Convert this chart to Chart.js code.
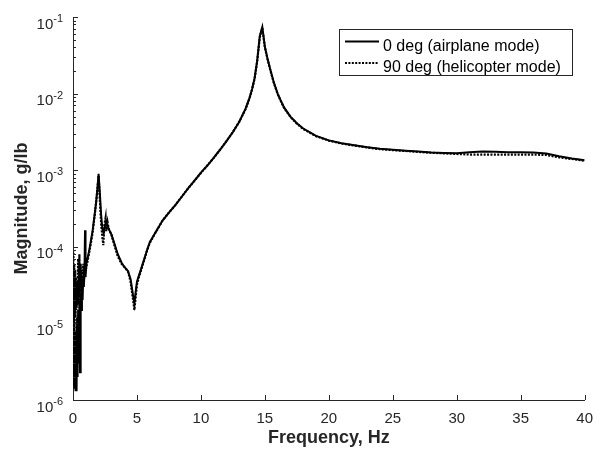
<!DOCTYPE html>
<html>
<head>
<meta charset="utf-8">
<script src="https://cdn.jsdelivr.net/npm/chart.js@4.4.1/dist/chart.umd.min.js"></script>
<style>
  html, body { margin: 0; padding: 0; background: #fff; }
</style>
</head>
<body>
<canvas id="fig" width="603" height="450"></canvas>
<script>
// frequency response, values (Hz, g/lb)
const freq0 = [0, 0.05, 0.08, 0.12, 0.16, 0.2, 0.24, 0.28, 0.32, 0.36,
  0.4, 0.45, 0.5, 0.55, 0.6, 0.65, 0.7, 0.75, 0.8, 0.85,
  0.9, 0.94, 0.98, 1.05, 1.27, 1.54, 1.8, 1.9, 2.0, 2.1,
  2.2, 2.3, 2.4, 2.5, 2.6, 2.8, 3.0, 3.2, 3.5, 3.8,
  4.0, 4.3, 4.5, 4.7, 4.8, 4.9, 5.0, 5.15, 5.3, 5.45,
  5.6, 5.8, 6.0, 6.5, 7, 7.5, 8, 8.5, 9, 9.5,
  10, 10.5, 11, 11.5, 12, 12.5, 13, 13.5, 13.8, 14,
  14.2, 14.4, 14.6, 14.8, 15.0, 15.2, 15.4, 15.7, 16.0, 16.2,
  16.5, 17, 17.5, 18, 19, 20, 21,
  22, 23, 24, 25, 26, 27, 28, 29, 30, 31, 32, 33, 34, 35, 36, 37, 38, 39, 40];
const mag0 = [4e-6, 1.5e-6, 1e-5, 1.4e-6, 6e-6, 1.3e-6, 8e-6, 1.3e-6, 1.2e-5, 2e-6,
  1.5e-5, 3e-6, 2e-5, 2.3e-6, 2.5e-5, 1.5e-5, 3e-5, 2e-5, 4e-5, 3e-5,
  5e-5, 1.65e-4, 4e-5, 6e-5, 9e-5, 1.65e-4, 3.7e-4, 5.5e-4, 9e-4, 5e-4,
  2.6e-4, 1.7e-4, 1.5e-4, 1.9e-4, 2.1e-4, 1.7e-4, 1.45e-4, 1.15e-4, 8e-5, 6.2e-5,
  5.5e-5, 4.8e-5, 3.8e-5, 2.3e-5, 1.8e-5, 2.6e-5, 3.5e-5, 4.2e-5, 5e-5, 6e-5,
  7.2e-5, 9.2e-5, 1.15e-4, 1.6e-4, 2.2e-4, 2.8e-4, 3.5e-4, 4.5e-4, 5.8e-4, 7.3e-4,
  9.3e-4, 1.15e-3, 1.45e-3, 1.85e-3, 2.4e-3, 3.15e-3, 4.3e-3, 6.4e-3, 8.8e-3, 1.15e-2,
  1.6e-2, 2.7e-2, 5.6e-2, 7.4e-2, 4.1e-2, 2.9e-2, 2.15e-2, 1.4e-2, 1.0e-2, 8.4e-3,
  6.6e-3, 5e-3, 4.1e-3, 3.5e-3, 2.8e-3, 2.45e-3, 2.25e-3,
  2.12e-3, 2e-3, 1.9e-3, 1.85e-3, 1.8e-3, 1.75e-3, 1.7e-3, 1.68e-3, 1.66e-3, 1.72e-3,
  1.76e-3, 1.74e-3, 1.72e-3, 1.71e-3, 1.7e-3, 1.65e-3, 1.52e-3, 1.42e-3, 1.35e-3];

const freq90 = [0, 0.03, 0.07, 0.1, 0.13, 0.17, 0.2, 0.23, 0.27, 0.3,
  0.35, 0.4, 0.45, 0.5, 0.55, 0.6, 0.65, 0.7, 0.75, 0.8,
  0.85, 0.9, 1.0, 1.1, 1.3, 1.5, 1.7, 1.85, 2.0, 2.1,
  2.2, 2.3, 2.37, 2.45, 2.55, 2.6, 2.7, 2.8, 3.0, 3.2,
  3.5, 3.8, 4.0, 4.3, 4.5, 4.7, 4.8, 4.9, 5.0, 5.15,
  5.3, 5.45, 5.6, 5.8, 6.0, 6.5, 7, 7.5, 8, 8.5,
  9, 9.5, 10, 10.5, 11, 11.5, 12, 12.5, 13, 13.5,
  13.8, 14, 14.2, 14.4, 14.6, 14.8, 15.0, 15.2, 15.4, 15.7,
  16.0, 16.2, 16.5, 17, 17.5, 18, 19,
  20, 21, 22, 23, 24, 25, 26, 27, 28, 29, 30, 31, 32, 33, 34, 35, 36, 37, 38, 39, 40];
const mag90 = [5e-6, 9e-5, 8e-6, 6e-5, 1e-5, 5e-5, 1.2e-5, 4e-5, 1.5e-5, 3.5e-5,
  1.6e-5, 7e-5, 1.8e-5, 8e-5, 2.2e-5, 6e-5, 2.5e-5, 5e-5, 3e-5, 6e-5,
  3.5e-5, 5.5e-5, 5e-5, 6e-5, 9e-5, 1.4e-4, 2.6e-4, 4.5e-4, 8.5e-4, 4e-4,
  2e-4, 1.3e-4, 1.05e-4, 1.9e-4, 2.4e-4, 1.6e-4, 2.1e-4, 1.7e-4, 1.45e-4, 1.1e-4,
  7.5e-5, 6e-5, 5.5e-5, 4.8e-5, 3.5e-5, 2e-5, 1.5e-5, 2.2e-5, 3.2e-5, 4e-5,
  4.8e-5, 5.8e-5, 7e-5, 9e-5, 1.12e-4, 1.58e-4, 2.2e-4, 2.8e-4, 3.5e-4, 4.5e-4,
  5.8e-4, 7.3e-4, 9.2e-4, 1.15e-3, 1.45e-3, 1.85e-3, 2.4e-3, 3.15e-3, 4.3e-3, 6.3e-3,
  8.7e-3, 1.13e-2, 1.58e-2, 2.65e-2, 5.4e-2, 7.2e-2, 4e-2, 2.85e-2, 2.1e-2, 1.38e-2,
  9.9e-3, 8.3e-3, 6.5e-3, 4.95e-3, 4.05e-3, 3.45e-3, 2.78e-3,
  2.43e-3, 2.23e-3, 2.1e-3, 1.98e-3, 1.88e-3, 1.83e-3, 1.78e-3, 1.73e-3, 1.69e-3, 1.66e-3,
  1.63e-3, 1.6e-3, 1.6e-3, 1.6e-3, 1.6e-3, 1.6e-3, 1.6e-3, 1.58e-3, 1.47e-3, 1.4e-3, 1.33e-3];

const seriesLabels = ['0 deg (airplane mode)', '90 deg (helicopter mode)'];
const xTicks = [0, 5, 10, 15, 20, 25, 30, 35, 40];
const yExponents = [-6, -5, -4, -3, -2, -1];

const FONT = "'Liberation Sans', Arial, Helvetica, sans-serif";
const INK = '#262626';

function points(xs, ys) {
    return xs.map((x, i) => ({ x: x, y: ys[i] }));
}

// inward ticks, 10^n labels and the boxed legend, MATLAB style
const matlabAxes = {
    id: 'matlabAxes',
    afterDraw(chart) {
        const ctx = chart.ctx;
        const xs = chart.scales.x, ys = chart.scales.y;
        const a = chart.chartArea;
        ctx.save();
        ctx.strokeStyle = INK;
        ctx.lineWidth = 1;
        ctx.beginPath();
        yExponents.forEach(e => {
            const y = Math.round(ys.getPixelForValue(Math.pow(10, e))) + 0.5;
            ctx.moveTo(a.left, y); ctx.lineTo(a.left + 5, y);
            if (e < -1) {
                for (let m = 2; m <= 9; m++) {
                    const ym = Math.round(ys.getPixelForValue(m * Math.pow(10, e))) + 0.5;
                    ctx.moveTo(a.left, ym); ctx.lineTo(a.left + 3, ym);
                }
            }
        });
        xTicks.forEach(v => {
            const x = Math.round(xs.getPixelForValue(v)) + 0.5;
            ctx.moveTo(x, a.bottom); ctx.lineTo(x, a.bottom - 5);
        });
        ctx.stroke();

        // y tick labels with superscript exponent
        ctx.fillStyle = INK;
        ctx.textBaseline = 'alphabetic';
        ctx.textAlign = 'left';
        yExponents.forEach(e => {
            const y = ys.getPixelForValue(Math.pow(10, e));
            const sup = '-' + Math.abs(e);
            ctx.font = '11px ' + FONT;
            const sw = ctx.measureText(sup).width;
            ctx.font = '15px ' + FONT;
            const bw = ctx.measureText('10').width;
            const right = a.left - 10;
            ctx.fillText('10', right - sw - bw, y + 11.5);
            ctx.font = '11px ' + FONT;
            ctx.fillText(sup, right - sw, y + 5);
        });

        // legend
        const bx = 339.5, by = 29.5, bw = 233, bh = 46;
        ctx.fillStyle = '#fff';
        ctx.fillRect(bx, by, bw, bh);
        ctx.strokeStyle = INK;
        ctx.lineWidth = 1;
        ctx.strokeRect(bx, by, bw, bh);
        const rows = [41.5, 63];
        chart.data.datasets.forEach((ds, i) => {
            ctx.beginPath();
            ctx.strokeStyle = '#000';
            ctx.lineWidth = 2;
            ctx.setLineDash(ds.borderDash || []);
            ctx.moveTo(345, rows[i]); ctx.lineTo(379, rows[i]);
            ctx.stroke();
            ctx.setLineDash([]);
            ctx.fillStyle = '#000';
            ctx.font = '16px ' + FONT;
            ctx.fillText(ds.label, 383, rows[i] + 9);
        });
        ctx.restore();
    }
};

new Chart(document.getElementById('fig'), {
    type: 'line',
    data: {
        datasets: [{
            label: seriesLabels[0],
            data: points(freq0, mag0),
            borderColor: '#000',
            borderWidth: 2,
            pointRadius: 0,
            fill: false,
            tension: 0
        }, {
            label: seriesLabels[1],
            data: points(freq90, mag90),
            borderColor: '#000',
            borderWidth: 2.2,
            borderDash: [2, 1.4],
            pointRadius: 0,
            fill: false,
            tension: 0
        }]
    },
    options: {
        responsive: false,
        animation: false,
        devicePixelRatio: 1,
        layout: { padding: { top: 17, right: 18, left: 0, bottom: 0 } },
        plugins: { legend: { display: false }, tooltip: { enabled: false } },
        scales: {
            x: {
                type: 'linear',
                min: 0,
                max: 40,
                afterBuildTicks: s => { s.ticks = xTicks.map(v => ({ value: v })); },
                afterFit: s => { s.height = 50; },
                grid: { display: false, drawTicks: false },
                border: { color: INK, width: 1 },
                ticks: {
                    autoSkip: false, maxRotation: 0, padding: 10,
                    color: INK, font: { family: FONT, size: 15 }
                },
                title: {
                    display: true, text: 'Frequency, Hz', color: INK,
                    font: { family: FONT, size: 18, weight: 'bold' },
                    padding: { top: 0, bottom: 1 }
                }
            },
            y: {
                type: 'logarithmic',
                min: 1e-6,
                max: 1e-1,
                afterFit: s => { s.width = 73; },
                grid: { display: false, drawTicks: false },
                border: { color: INK, width: 1 },
                ticks: { display: false },
                title: {
                    display: true, text: 'Magnitude, g/lb', color: INK,
                    font: { family: FONT, size: 18, weight: 'bold' },
                    padding: { top: 11, bottom: 0 }
                }
            }
        }
    },
    plugins: [matlabAxes]
});
</script>
</body>
</html>
